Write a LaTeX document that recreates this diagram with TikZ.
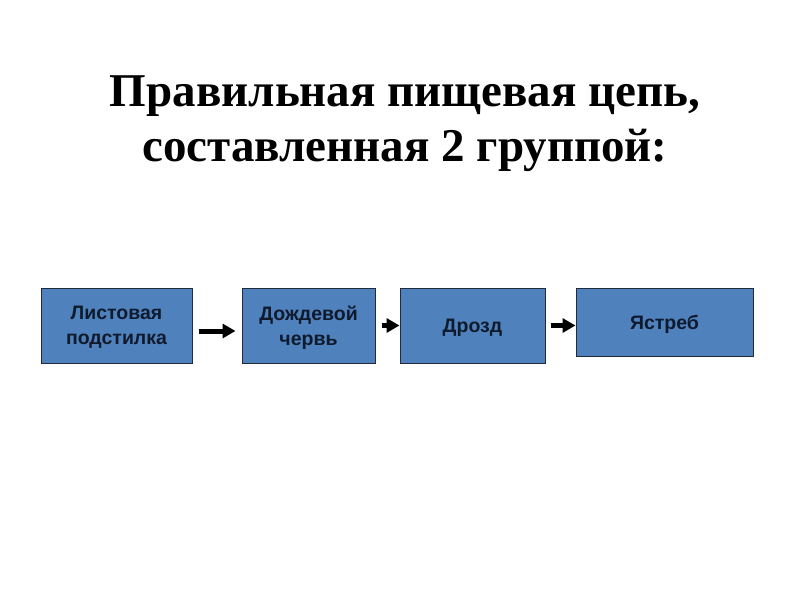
\documentclass[tikz,border=0pt]{standalone}
\usepackage{fontspec}
\setmainfont{Liberation Serif}
\newfontfamily\boxfont{Liberation Sans}
\usetikzlibrary{arrows.meta}
\definecolor{boxfill}{HTML}{4F81BD}
\definecolor{boxline}{HTML}{1F2A3A}
\definecolor{boxtext}{HTML}{0F1A2D}
\tikzset{
  foodbox/.style={draw=boxline, line width=1pt, fill=boxfill, inner sep=0pt},
  foodtext/.style={inner sep=0pt, text=boxtext,
    font=\boxfont\bfseries\fontsize{19.5}{25}\selectfont, align=center},
  arr/.style={line width=5pt, -{Triangle[length=13pt,width=14pt]}},
  titletext/.style={font=\bfseries\fontsize{47}{55}\selectfont, align=center, inner sep=0pt}
}
\begin{document}
\begin{tikzpicture}[x=1pt,y=-1pt]
\useasboundingbox (0,0) rectangle (800,600);
\node[titletext] (title) at (405,124) {Правильная пищевая цепь,\\составленная 2 группой:};
\node[foodbox, minimum width=151pt, minimum height=75pt] (b1) at (116.5,325.5) {};
\node[foodbox, minimum width=133pt, minimum height=75pt] (b2) at (308.5,325.5) {};
\node[foodbox, minimum width=145pt, minimum height=75pt] (b3) at (472.5,325.5) {};
\node[foodbox, minimum width=177pt, minimum height=68pt] (b4) at (664.5,322) {};
\node[foodtext] (t1) at ([yshift=-2pt]b1.center) {Листовая\\ подстилка};
\node[foodtext] (t2) at ([yshift=-2pt]b2.center) {Дождевой\\ червь};
\node[foodtext] (t3) at ([yshift=-2.5pt]b3.center) {Дрозд};
\node[foodtext] (t4) at ([yshift=-2pt]b4.center) {Ястреб};
\draw[arr, shorten <=6pt, shorten >=6pt] ([yshift=-5.5pt]b1.east) -- ([yshift=-5.5pt]b2.west);
\draw[arr, shorten <=6pt, shorten >=0pt] (b2.east) -- (b3.west);
\draw[arr, shorten <=5pt] (b3.east) -- (b3.east -| b4.west);
\end{tikzpicture}
\end{document}
